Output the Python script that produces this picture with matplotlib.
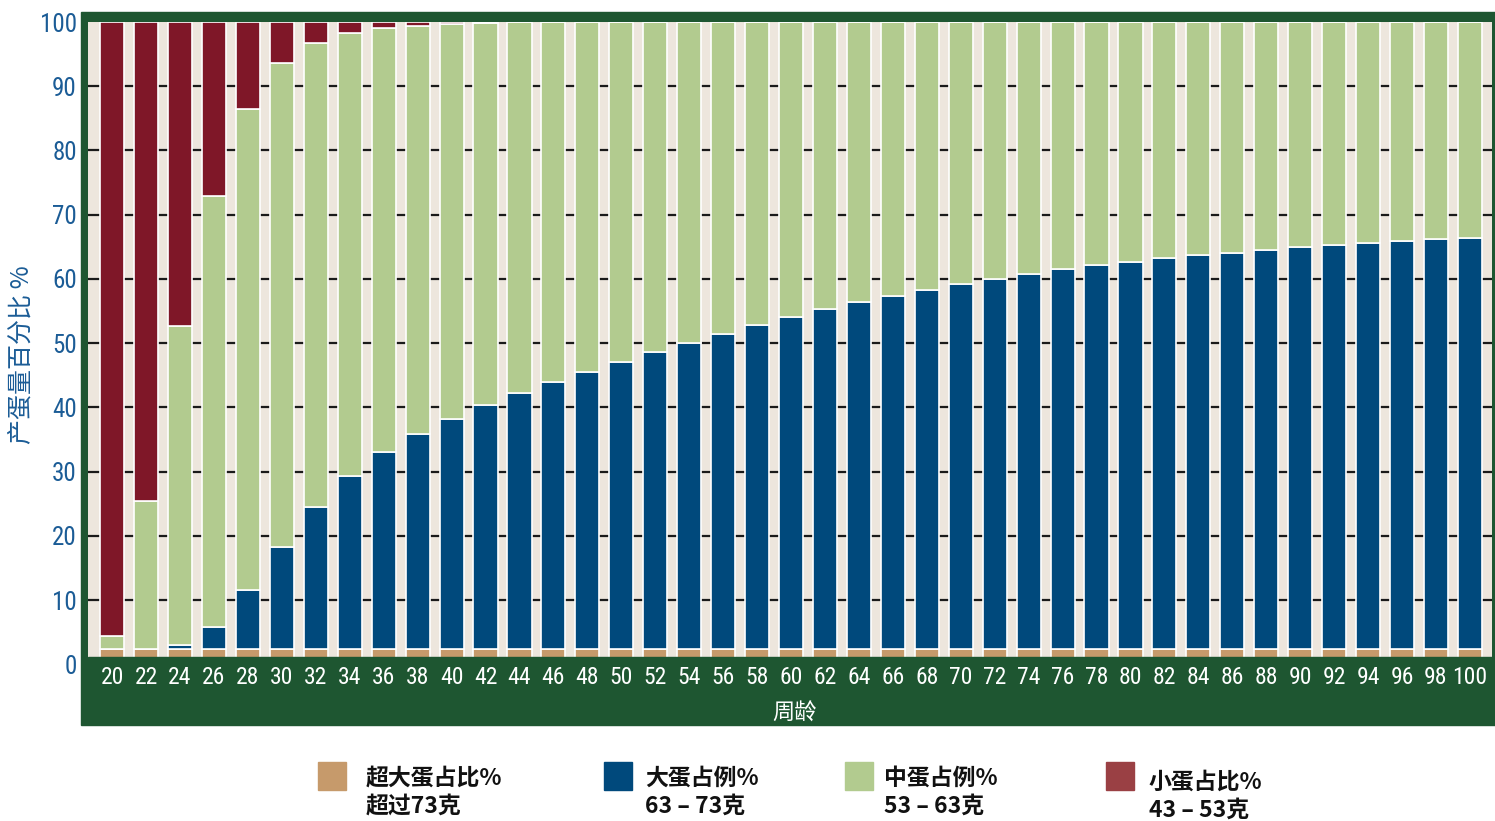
import matplotlib
matplotlib.use("Agg")
import matplotlib.pyplot as plt
from matplotlib import font_manager
from matplotlib.patches import Rectangle

# data (percent of eggs by size class)
ages = list(range(20, 101, 2))
extra_large = [2.4] * 41
large = [0, 0, 0.6, 3.4, 9.1, 15.9, 22.1, 26.9, 30.6, 33.5, 35.8, 37.9, 39.8, 41.5,
         43.1, 44.7, 46.2, 47.6, 49.1, 50.4, 51.6, 52.9, 54.0, 54.9, 55.9, 56.8,
         57.6, 58.4, 59.1, 59.7, 60.3, 60.8, 61.3, 61.7, 62.1, 62.5, 62.9, 63.2,
         63.5, 63.8, 64.0]
medium = [2.0, 23.0, 49.7, 67.1, 75.0, 75.3, 72.3, 69.0, 66.0, 63.5, 61.5, 59.6,
          57.8, 56.1, 54.5, 52.9, 51.4, 50.0, 48.5, 47.2, 46.0, 44.7, 43.6, 42.7,
          41.7, 40.8, 40.0, 39.2, 38.5, 37.9, 37.3, 36.8, 36.3, 35.9, 35.5, 35.1,
          34.7, 34.4, 34.1, 33.8, 33.6]
small = [95.6, 74.6, 47.3, 27.1, 13.5, 6.4, 3.2, 1.7, 1.0, 0.6, 0.3, 0.1] + [0] * 29

legend_names = ["超大蛋占比%\n超过73克", "大蛋占例%\n63 – 73克",
                "中蛋占例%\n53 – 63克", "小蛋占比%\n43 – 53克"]

TAN = "#c69a6b"
BLUE = "#00497c"
GREEN = "#b2cb8f"
RED = "#7f1728"
FRAME = "#1e5631"
BEIGE = "#ede6dd"
TXTBLUE = "#1b5c96"

# look for a narrow face for the numbers, the original uses a condensed font
names = {f.name for f in font_manager.fontManager.ttflist}
narrow = [n for n in ["Liberation Sans Narrow", "Roboto Condensed", "Open Sans Condensed",
                      "DejaVu Sans Condensed"] if n in names]
NUM_FONT = narrow[:1] + ["DejaVu Sans"]
CJK_FONT = ["Noto Sans CJK SC", "DejaVu Sans"]

fig = plt.figure(figsize=(14.95, 8.21), dpi=100)
fig.patches.append(Rectangle((81 / 1495, 1 - 725 / 821), 1.0, (725 - 12) / 821,
                             transform=fig.transFigure, color=FRAME, zorder=-5))

ax = fig.add_axes([88 / 1495, 1 - 664.3 / 821, (1492 - 88) / 1495, (664.3 - 22) / 821])
ax.set_zorder(1)
ax.set_facecolor(BEIGE)

x = list(range(len(ages)))
w = 0.71
bottom = [0.0] * len(ages)
for vals, col in [(extra_large, TAN), (large, BLUE), (medium, GREEN), (small, RED)]:
    ax.bar(x, vals, w, bottom=bottom, color=col, edgecolor="white", linewidth=1.2, zorder=2)
    bottom = [b + v for b, v in zip(bottom, vals)]

# green band hiding the very bottom of the bars
ax.axhspan(0, 1.14, color=FRAME, zorder=4)

ax.set_xlim(-0.71, 40.65)
ax.set_ylim(0, 100)
ax.set_yticks(range(0, 101, 10))
ax.set_xticks(x)
ax.set_xticklabels([str(a) for a in ages])
ax.set_axisbelow(True)
ax.yaxis.grid(True, color="#1a1a1a", linewidth=1.6)
ax.xaxis.grid(False)
gl = ax.get_ygridlines()
gl[0].set_visible(False)
gl[-1].set_visible(False)
for s in ax.spines.values():
    s.set_visible(False)

ax.tick_params(axis="y", length=0, pad=8, labelcolor=TXTBLUE, labelsize=18)
ax.tick_params(axis="x", length=0, pad=1, labelcolor="white", labelsize=17)
for lab in ax.get_yticklabels() + ax.get_xticklabels():
    lab.set_family(NUM_FONT)

fig.text(22 / 1495, 1 - 355 / 821, "产蛋量百分比 %", rotation=90, color=TXTBLUE,
         fontsize=18, family=CJK_FONT, ha="center", va="center")
fig.text(795 / 1495, 1 - 713 / 821, "周龄", color="white", fontsize=16,
         family=CJK_FONT, ha="center", va="center")

# legend drawn by hand to match the spread-out layout
leg_colors = [TAN, BLUE, GREEN, "#9a4044"]
leg_box_x = [318, 604, 845, 1106]
leg_txt_x = [366, 645, 884, 1149]
leg_y = [778, 778, 778, 782]
for name, col, bx, tx, ly in zip(legend_names, leg_colors, leg_box_x, leg_txt_x, leg_y):
    fig.patches.append(Rectangle((bx / 1495, 1 - 790 / 821), 28 / 1495, 28 / 821,
                                 transform=fig.transFigure, color=col))
    fig.text(tx / 1495, 1 - (ly + 14) / 821, name, fontsize=16.5, family=CJK_FONT,
             weight="bold", ha="left", va="center", linespacing=1.3, color="#111111")

fig.savefig("out.png", dpi=100)
